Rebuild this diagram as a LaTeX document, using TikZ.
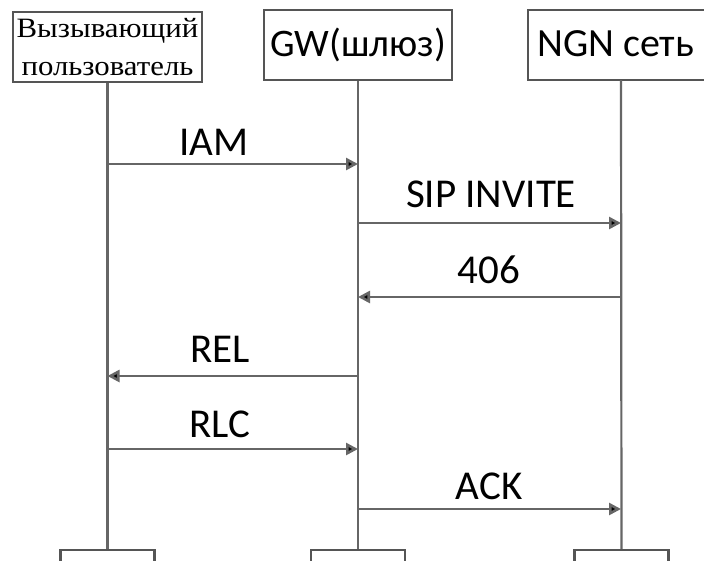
\documentclass[tikz,border=0pt]{standalone}
\usepackage{fontspec}
\usetikzlibrary{arrows.meta}
\newfontfamily\labfont{Carlito}
\newfontfamily\serfont[FakeStretch=1.1]{Liberation Serif}
\definecolor{linegray}{HTML}{666666}
\definecolor{boxgray}{HTML}{555555}
\begin{document}
\begin{tikzpicture}[x=1pt,y=-1pt,
  actor/.style={draw=boxgray,line width=2.2pt,fill=white,minimum width=188pt,minimum height=70pt,inner sep=0pt},
  endbox/.style={draw=boxgray,line width=2.2pt,fill=white,minimum width=94pt,minimum height=50pt,inner sep=0pt},
  life/.style={draw=linegray,line width=2.2pt},
  msg/.style={draw=linegray,line width=2.6pt,-{Triangle[length=12pt,width=12pt,fill=black]}},
  lbl/.style={font=\labfont\fontsize{41}{44}\selectfont,anchor=base,inner sep=0pt}
]
\useasboundingbox (0,0) rectangle (704,560);
\fill[white] (0,0) rectangle (704,560);
% top boxes
\node[actor,minimum width=189pt,align=center,font=\serfont\fontsize{28}{37}\selectfont] (p1) at (107.5,47) {Вызывающий\\[1pt]пользователь};
\node[actor,font=\labfont\fontsize{39}{42}\selectfont] (p2) at (358,45) {GW(шлюз)};
\node[actor,font=\labfont\fontsize{40}{42}\selectfont,anchor=west] (p3) at (527,45) {};
\node[font=\labfont\fontsize{40}{42}\selectfont,anchor=base west,inner sep=0pt] (t3) at (537,56) {NGN сеть};
% bottom boxes
\node[endbox] (q1) at (107.5,575) {};
\node[endbox] (q2) at (358,575) {};
\node[endbox] (q3) at (621.5,575) {};
% lifelines
\coordinate (s3) at (621,80);
\draw[life] (p1.south) -- (q1.north);
\draw[life] (p2.south) -- (q2.north);
\draw[life] (s3) -- (q3.north);
% message end points
\coordinate (a1) at (107.5,164); \coordinate (b1) at (358,164);
\coordinate (a2) at (358,223);   \coordinate (b2) at (621,223);
\coordinate (a3) at (621,297);   \coordinate (b3) at (358,297);
\coordinate (a4) at (358,376);   \coordinate (b4) at (107.5,376);
\coordinate (a5) at (107.5,449); \coordinate (b5) at (358,449);
\coordinate (a6) at (358,509);   \coordinate (b6) at (621,509);
\draw[msg] (a1) -- (b1);
\draw[msg] (a2) -- (b2);
\draw[msg] (a3) -- (b3);
\draw[msg] (a4) -- (b4);
\draw[msg] (a5) -- (b5);
\draw[msg] (a6) -- (b6);
% labels
\node[lbl] (l1) at (214,155) {IAM};
\node[lbl] (l2) at (491,207) {SIP INVITE};
\node[lbl] (l3) at (489,283) {406};
\node[lbl] (l4) at (220,362) {REL};
\node[lbl] (l5) at (220,437) {RLC};
\node[lbl] (l6) at (489,499) {ACK};
\end{tikzpicture}
\end{document}
